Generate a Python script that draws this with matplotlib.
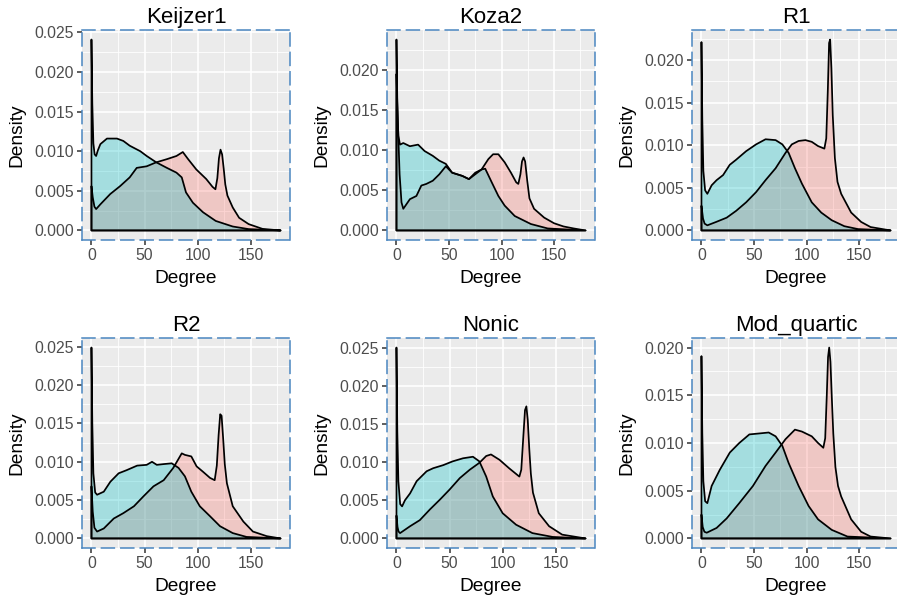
import matplotlib
matplotlib.use("Agg")
import matplotlib.pyplot as plt
from matplotlib.ticker import MultipleLocator, FormatStrFormatter

plt.rcParams['font.family'] = ['Liberation Sans', 'DejaVu Sans']

titles = ["Keijzer1", "Koza2", "R1", "R2", "Nonic", "Mod_quartic"]

# ---- Keijzer1 ----
keijzer1_red_x = [0, 1.2, 2.8, 4.4, 8.4, 17.7, 27, 36, 42.6, 52, 61, 71, 80, 86, 91, 98.7, 108, 114, 116.7, 118.5, 120, 121.5, 123, 124.5, 126, 128, 133, 139, 148, 161, 178]
keijzer1_red_y = [0.0056, 0.0042, 0.0030, 0.0027, 0.0033, 0.0046, 0.0056, 0.0067, 0.0079, 0.0081, 0.0086, 0.0090, 0.0094, 0.0099, 0.0090, 0.0077, 0.0065, 0.0055, 0.0052, 0.0066, 0.0091, 0.0102, 0.0096, 0.0078, 0.0058, 0.0044, 0.0029, 0.0016, 0.0008, 0.0002, 0.0]
keijzer1_cyan_x = [0, 0.8, 1.8, 3, 4.4, 6, 8.4, 14.6, 24, 30, 36, 46, 52, 61, 71, 80, 85, 89, 95.5, 105, 117, 133, 148, 178]
keijzer1_cyan_y = [0.0241, 0.0160, 0.0110, 0.0096, 0.0094, 0.0101, 0.0109, 0.0116, 0.0116, 0.0113, 0.0107, 0.0100, 0.0094, 0.0086, 0.0079, 0.0073, 0.0067, 0.0048, 0.0035, 0.0023, 0.0012, 0.0005, 0.00017, 0.0]

# ---- Koza2 ----
koza2_red_x = [0, 1.2, 3, 4.8, 6.5, 12.8, 19, 23.7, 28.4, 34.6, 40.8, 47, 53, 62.7, 69, 75, 81, 87.5, 92, 97, 103, 109, 114, 116, 118, 119.5, 121, 122.5, 124.5, 126.6, 131, 140.6, 150, 159, 168.7, 180]
koza2_red_y = [0.0195, 0.0140, 0.0070, 0.0035, 0.0027, 0.0039, 0.0043, 0.0056, 0.0058, 0.0062, 0.0070, 0.0080, 0.0072, 0.0068, 0.0064, 0.0072, 0.0076, 0.0089, 0.0095, 0.0095, 0.0085, 0.0072, 0.0060, 0.0058, 0.0070, 0.0086, 0.0091, 0.0086, 0.0062, 0.0040, 0.0027, 0.0016, 0.0009, 0.0005, 0.00025, 0.0]
koza2_cyan_x = [0, 0.8, 1.8, 3.4, 6.5, 12.8, 20.6, 26.8, 34.6, 40.8, 47, 53, 62.7, 69, 75, 81, 84.5, 90.7, 97, 103, 112.6, 128, 144, 180]
koza2_cyan_y = [0.0238, 0.0160, 0.0118, 0.0107, 0.0109, 0.0105, 0.0107, 0.0099, 0.0093, 0.0087, 0.0083, 0.0072, 0.0068, 0.0064, 0.0070, 0.0076, 0.0077, 0.0060, 0.0043, 0.0031, 0.0018, 0.0008, 0.00025, 0.0]

# ---- R1 ----
r1_red_x = [0, 1.5, 3, 5.6, 14, 24, 33, 42.5, 52, 61, 70.6, 80, 86, 92.5, 99, 105, 111, 117, 118.8, 120.3, 121.5, 122.5, 123.7, 125, 127, 129.5, 133, 142.5, 152, 161, 180]
r1_red_y = [0.0029, 0.0014, 0.0008, 0.0006, 0.0010, 0.0015, 0.0023, 0.0033, 0.0045, 0.0059, 0.0073, 0.0091, 0.0101, 0.0105, 0.0106, 0.0104, 0.0099, 0.0096, 0.0108, 0.0165, 0.0220, 0.0224, 0.0190, 0.0135, 0.0085, 0.0057, 0.0043, 0.0021, 0.0010, 0.0004, 0.0]
r1_cyan_x = [0, 0.8, 1.8, 3.5, 5.6, 9.7, 14.4, 20.6, 26.9, 33, 42.5, 52, 61, 70.6, 77, 83, 89, 95.6, 105, 114, 124, 136, 149, 180]
r1_cyan_y = [0.0221, 0.0130, 0.0070, 0.0047, 0.0043, 0.0053, 0.0059, 0.0065, 0.0077, 0.0083, 0.0093, 0.0101, 0.0107, 0.0106, 0.0101, 0.0091, 0.0073, 0.0055, 0.0033, 0.0021, 0.0012, 0.0005, 0.00016, 0.0]

# ---- R2 ----
r2_red_x = [0, 1.2, 2.8, 5.3, 11.6, 21, 30, 40, 49, 58.4, 68, 77, 85, 88, 94, 99, 105, 111.6, 116, 118, 119.7, 121.2, 122.5, 124, 125.5, 127.5, 133, 143, 152, 165, 178]
r2_red_y = [0.0068, 0.0035, 0.0014, 0.0009, 0.0013, 0.0026, 0.0033, 0.0042, 0.0055, 0.0068, 0.0076, 0.0092, 0.0111, 0.0109, 0.0107, 0.0094, 0.0087, 0.0079, 0.0076, 0.0095, 0.0135, 0.0162, 0.0160, 0.0130, 0.0097, 0.0072, 0.0042, 0.0022, 0.0009, 0.0003, 0.0]
r2_cyan_x = [0, 0.8, 1.8, 3.5, 5.3, 11.6, 17.8, 25.6, 33, 43, 52, 57, 61.5, 68, 75.6, 82, 88, 94, 102, 111.6, 121, 133, 146, 178]
r2_cyan_y = [0.0249, 0.0150, 0.0085, 0.0060, 0.0057, 0.0061, 0.0074, 0.0085, 0.0089, 0.0095, 0.0096, 0.0100, 0.0096, 0.0097, 0.0098, 0.0092, 0.0081, 0.0061, 0.0042, 0.0029, 0.0016, 0.0007, 0.0002, 0.0]

# ---- Nonic ----
nonic_red_x = [0, 1, 2, 3.4, 12.8, 22, 31.5, 41, 50, 59.6, 69, 78, 84.5, 89, 97, 106, 115.7, 117.5, 119.5, 121, 122.3, 123.6, 125, 126.5, 128.5, 134, 143.7, 156, 178]
nonic_red_y = [0.0030, 0.0015, 0.0009, 0.0007, 0.0016, 0.0024, 0.0038, 0.0051, 0.0064, 0.0079, 0.0090, 0.0099, 0.0108, 0.0110, 0.0103, 0.0092, 0.0081, 0.0090, 0.0135, 0.0168, 0.0173, 0.0155, 0.0118, 0.0085, 0.0060, 0.0033, 0.0016, 0.0005, 0.0]
nonic_cyan_x = [0, 0.8, 1.8, 3.5, 5.3, 8, 12.8, 19, 28.4, 34.6, 44, 53, 62.7, 72, 78, 84.5, 90.7, 100, 112.6, 128, 147, 178]
nonic_cyan_y = [0.0250, 0.0140, 0.0075, 0.0045, 0.0042, 0.0050, 0.0059, 0.0075, 0.0088, 0.0092, 0.0096, 0.0101, 0.0105, 0.0107, 0.0101, 0.0081, 0.0055, 0.0033, 0.0018, 0.0007, 0.0002, 0.0]

# ---- Mod_quartic ----
modq_red_x = [0, 1.2, 2.8, 5, 14.4, 24, 36, 49, 61, 70.6, 80, 89, 95.6, 105, 111, 116, 117.8, 119.3, 120.5, 121.6, 122.8, 124, 125.5, 127.5, 130, 133, 142.5, 152, 161, 180]
modq_red_y = [0.0025, 0.0012, 0.0007, 0.0006, 0.0011, 0.0021, 0.0037, 0.0055, 0.0076, 0.0090, 0.0104, 0.0114, 0.0112, 0.0107, 0.0100, 0.0095, 0.0105, 0.0150, 0.0190, 0.0200, 0.0185, 0.0150, 0.0110, 0.0075, 0.0055, 0.0044, 0.0020, 0.0007, 0.0002, 0.0]
modq_cyan_x = [0, 0.8, 1.8, 3.5, 5.6, 9.7, 17.5, 27, 36, 45.6, 55, 64, 70.6, 77, 83, 92.5, 102, 111, 124, 139, 180]
modq_cyan_y = [0.0191, 0.0110, 0.0060, 0.0039, 0.0037, 0.0055, 0.0072, 0.0090, 0.0100, 0.0109, 0.0110, 0.0111, 0.0107, 0.0097, 0.0079, 0.0055, 0.0034, 0.0020, 0.0009, 0.0002, 0.0]

series = [
    (keijzer1_red_x, keijzer1_red_y, keijzer1_cyan_x, keijzer1_cyan_y),
    (koza2_red_x, koza2_red_y, koza2_cyan_x, koza2_cyan_y),
    (r1_red_x, r1_red_y, r1_cyan_x, r1_cyan_y),
    (r2_red_x, r2_red_y, r2_cyan_x, r2_cyan_y),
    (nonic_red_x, nonic_red_y, nonic_cyan_x, nonic_cyan_y),
    (modq_red_x, modq_red_y, modq_cyan_x, modq_cyan_y),
]

W, H = 897, 603
fig = plt.figure(figsize=(W / 100, H / 100), dpi=100)

lefts = [82, 387, 692]
tops = [30, 338]
pw, ph = 208, 210

RED = "#F8766D"
CYAN = "#00BFC4"
BORDER = "#4A86C0"

for i, (title, (rx, ry, cx, cy)) in enumerate(zip(titles, series)):
    r, c = divmod(i, 3)
    ax = fig.add_axes([lefts[c] / W, 1 - (tops[r] + ph) / H, pw / W, ph / H])
    ax.set_facecolor("#EBEBEB")
    ax.set_axisbelow(True)
    for xs, ys, col in ((rx, ry, RED), (cx, cy, CYAN)):
        px = list(xs) + [xs[-1], xs[0]]
        py = list(ys) + [0, 0]
        ax.fill(px, py, facecolor=col, alpha=0.3, edgecolor="none", zorder=2)
        ax.fill(px, py, facecolor="none", edgecolor="black", linewidth=1.25, zorder=3,
                joinstyle="round")
    xmin = min(min(rx), min(cx))
    xmax = max(max(rx), max(cx))
    ymax = max(max(ry), max(cy))
    xr = xmax - xmin
    ax.set_xlim(xmin - 0.05 * xr, xmax + 0.05 * xr)
    ax.set_ylim(-0.05 * ymax, 1.05 * ymax)
    ax.xaxis.set_major_locator(MultipleLocator(50))
    ax.xaxis.set_minor_locator(MultipleLocator(25))
    ax.yaxis.set_major_locator(MultipleLocator(0.005))
    ax.yaxis.set_minor_locator(MultipleLocator(0.0025))
    ax.yaxis.set_major_formatter(FormatStrFormatter("%.3f"))
    ax.grid(which="major", color="white", linewidth=1.2)
    ax.grid(which="minor", color="white", linewidth=0.6)
    ax.tick_params(which="major", length=3.3, width=1.1, color="#333333",
                   labelcolor="#4D4D4D", labelsize=11.3, pad=2.5)
    ax.tick_params(which="minor", length=0)
    for sp in ax.spines.values():
        sp.set_color(BORDER)
        sp.set_linewidth(1.1)
        sp.set_linestyle((0, (8.5, 4.2)))
    ax.set_title(title, fontsize=16, pad=5)
    ax.set_xlabel("Degree", fontsize=13.8, labelpad=5)
    ax.set_ylabel("Density", fontsize=13.8, labelpad=6)

fig.savefig("out.png", dpi=100)
